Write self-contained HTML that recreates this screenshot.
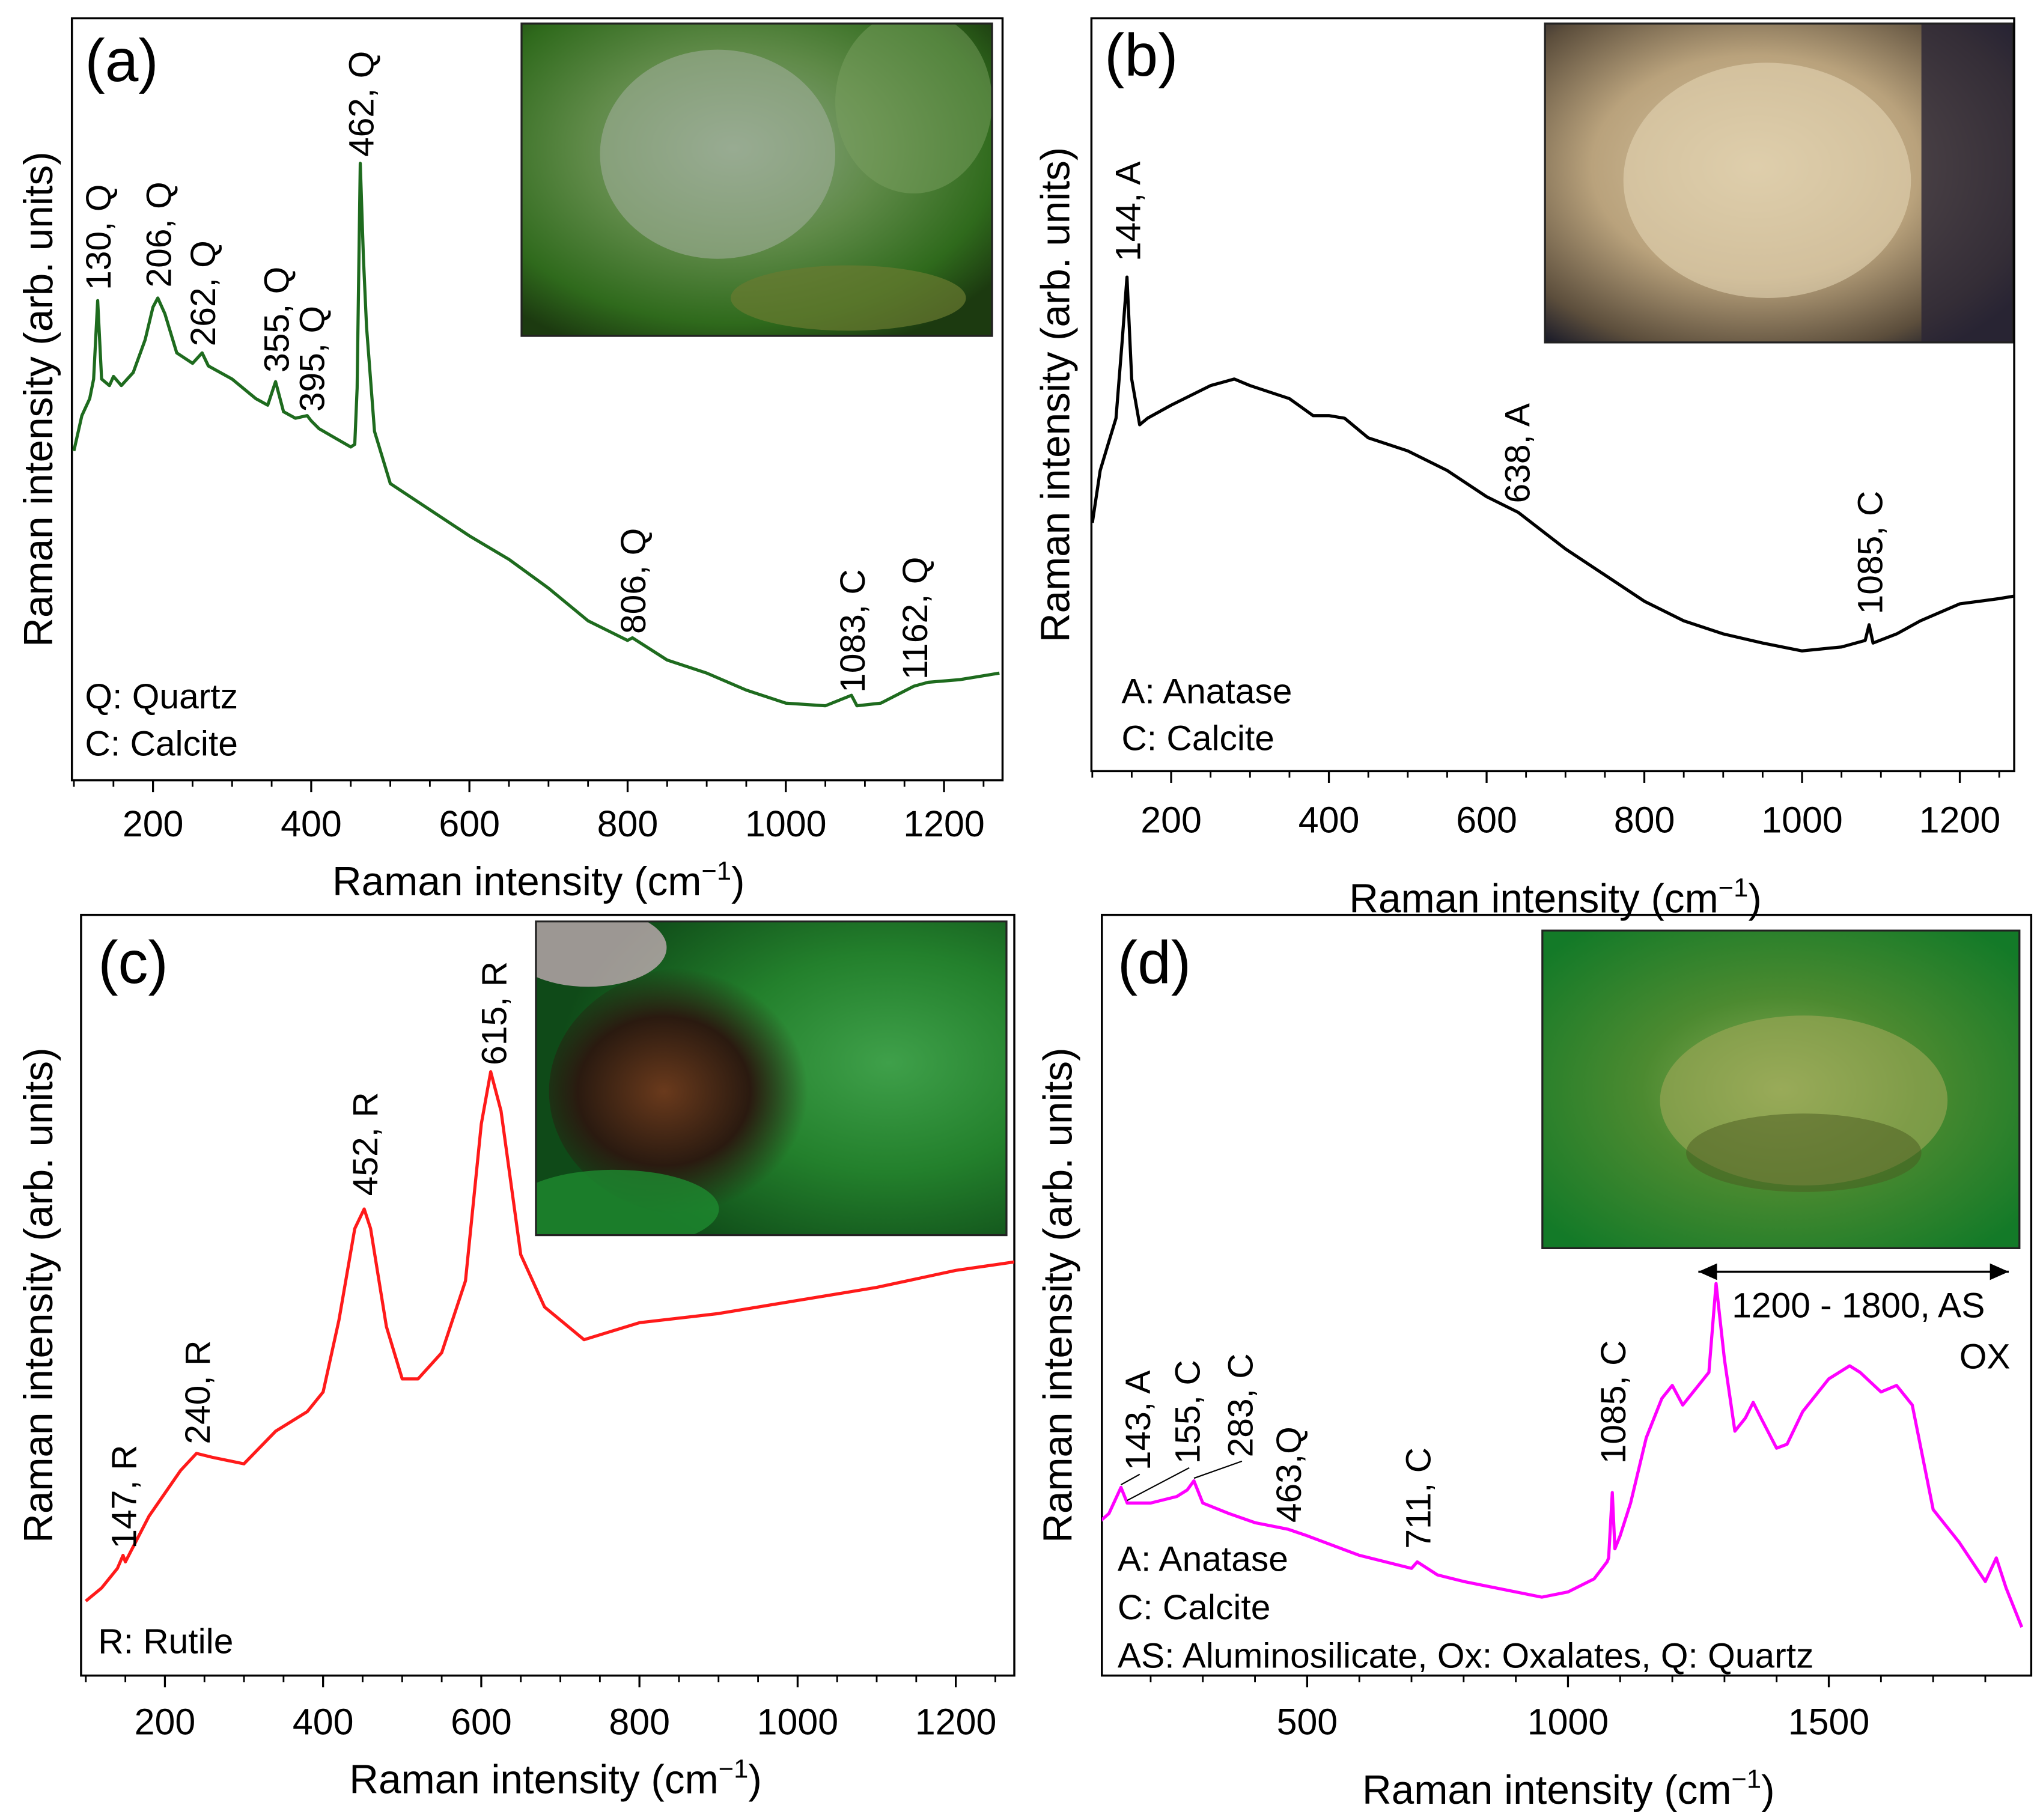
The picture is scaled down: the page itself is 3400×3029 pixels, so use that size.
<!DOCTYPE html>
<html>
<head>
<meta charset="utf-8">
<style>
html,body{margin:0;padding:0;background:#fff;}
svg{display:block;}
text{font-family:"Liberation Sans",Arial,sans-serif;fill:#000;}
</style>
</head>
<body>
<svg id="fig" width="3400" height="3029" viewBox="0 0 1563 1392.5">
<defs id="defs">
<radialGradient id="ga" cx="45%" cy="40%" r="70%"><stop offset="0" stop-color="#8fa88a"/><stop offset="0.45" stop-color="#5f8a48"/><stop offset="0.8" stop-color="#2f6a1c"/><stop offset="1" stop-color="#1c3a10"/></radialGradient>
<radialGradient id="gb" cx="45%" cy="45%" r="70%"><stop offset="0" stop-color="#d8c6a2"/><stop offset="0.5" stop-color="#b9a27c"/><stop offset="0.85" stop-color="#5c4e3c"/><stop offset="1" stop-color="#1e1e2a"/></radialGradient>
<radialGradient id="gc" cx="75%" cy="45%" r="70%"><stop offset="0" stop-color="#3fa04a"/><stop offset="0.5" stop-color="#23802c"/><stop offset="1" stop-color="#0f4a18"/></radialGradient>
<radialGradient id="gc2" cx="40%" cy="50%" r="50%"><stop offset="0" stop-color="#6a3a1c"/><stop offset="0.6" stop-color="#2a1a10"/><stop offset="1" stop-color="#2a1a10" stop-opacity="0"/></radialGradient>
<radialGradient id="gd" cx="50%" cy="50%" r="65%"><stop offset="0" stop-color="#8fae5a"/><stop offset="0.45" stop-color="#4c8a30"/><stop offset="1" stop-color="#137a28"/></radialGradient>
<marker id="arr" markerWidth="10" markerHeight="10" refX="9" refY="5" orient="auto-start-reverse"><path d="M0,1 L9,5 L0,9 Z" fill="#000"/></marker>
</defs>
</svg>
<script>
// ---- data (Raman shift in cm-1, intensity in arb. units) ----
const aShift = [100,110,120,125,130,135,145,150,160,175,190,200,206,215,230,250,262,270,300,330,345,355,365,380,395,400,410,430,450,455,458,462,466,470,480,500,550,600,650,700,750,800,806,850,900,950,1000,1050,1083,1090,1120,1162,1180,1220,1270];
const aInt   = [252,279,292,307,367,307,302,309,302,312,337,362,369,357,327,319,327,317,307,292,287,305,282,277,279,275,269,262,255,257,300,472,400,347,267,227,207,187,169,147,122,107,109,92,82,69,59,57,65,57,59,72,75,77,82];
const bShift = [100,110,120,130,138,144,150,160,170,200,250,280,300,350,380,400,420,450,500,550,600,640,700,750,800,850,900,950,1000,1050,1080,1085,1090,1120,1150,1200,1250,1280];
const bInt   = [190,230,250,270,330,378,300,265,270,280,295,300,295,285,272,272,270,255,245,230,210,198,170,150,130,115,105,98,92,95,100,112,98,105,115,128,132,135];
const cShift = [100,120,140,147,150,180,220,240,260,300,340,380,400,420,440,452,460,480,500,520,550,580,600,612,625,650,680,700,730,800,900,1000,1100,1200,1280];
const cInt   = [57,67,82,92,87,122,157,170,167,162,187,202,217,272,342,357,342,267,227,227,247,302,422,462,432,322,282,272,257,270,277,287,297,310,317];
const dShift = [100,120,143,155,200,250,270,283,300,350,400,463,500,600,700,711,750,800,900,950,1000,1050,1075,1078,1085,1090,1100,1120,1150,1180,1200,1220,1250,1270,1284,1300,1320,1340,1355,1370,1400,1420,1450,1500,1540,1560,1600,1630,1660,1700,1750,1800,1821,1840,1870];
const dInt   = [117,124,144,132,132,137,142,149,132,124,117,112,107,92,82,87,77,72,64,60,64,74,87,90,140,97,107,132,182,212,222,207,222,232,300,242,187,197,209,197,174,177,202,227,237,232,217,222,207,127,102,72,90,67,37];
const abcTicks = [200,400,600,800,1000,1200];
const dTicks = [500,1000,1500];
const aLabels = ["130, Q","206, Q","262, Q","355, Q","395, Q","462, Q","806, Q","1083, C","1162, Q"];
const aLabelX = [130,206,262,355,400,462,806,1083,1162];
const aLabelV = [375,377,332,312,282,477,112,67,77];
const bLabels = ["144, A","638, A","1085, C"];
const bLabelX = [144,638,1085];
const bLabelV = [390,205,120];
const cLabels = ["147, R","240, R","452, R","615, R"];
const cLabelX = [147,240,452,615];
const cLabelV = [97,177,367,467];
const dLabels = ["143, A","155, C","283, C","463,Q","711, C","1085, C"];
const dLabelX = [174,269,370,463,711,1085];
const dLabelV = [157,162,167,117,97,162];

const svg = document.getElementById('fig');
const defs = document.getElementById('defs');
const NS = svg.namespaceURI;
function mk(parent, tag, attrs){
  const e = document.createElementNS(NS, tag);
  for (const k in attrs) e.setAttribute(k, attrs[k]);
  parent.appendChild(e);
  return e;
}

function panel(id, box, dmin, dmax, ticks, minorStep, xs, ys, color, labels, labelX, labelV, tickY, titleX, titleY, yTitleX, letter, letterPos, legend, legendX, legendY0, legendDy, inset, insetFill){
  const g = mk(svg,'g',{});
  
  
  const X = v => box.x0 + (v - dmin)/(dmax - dmin)*(box.x1 - box.x0);
  const Y = v => box.y1 - v;
  // clip paths
  const cp = mk(defs,'clipPath',{id:'ci'+id});
  mk(cp,'rect',{x:inset[0],y:inset[1],width:inset[2],height:inset[3]});
  const cp2 = mk(defs,'clipPath',{id:'cb'+id});
  mk(cp2,'rect',{x:box.x0,y:box.y0,width:box.x1-box.x0,height:box.y1-box.y0});
  // inset image
  const ins = mk(g,'g',{'clip-path':'url(#ci'+id+')'});
  
  
  insetFill(ins, inset);
  mk(g,'rect',{x:inset[0],y:inset[1],width:inset[2],height:inset[3],fill:'none',stroke:'#222','stroke-width':1.5});
  // frame
  const fr = mk(g,'rect',{x:box.x0,y:box.y0,width:box.x1-box.x0,height:box.y1-box.y0,fill:'none',stroke:'#000','stroke-width':1.6});
  
  
  // minor ticks
  for (let v = Math.ceil(dmin/minorStep)*minorStep; v <= dmax; v += minorStep){
    const mt = mk(g,'line',{x1:X(v),x2:X(v),y1:box.y1,y2:box.y1+5,stroke:'#000','stroke-width':1.3});
    
    
  }
  ticks.forEach(t => {
    const tk = mk(g,'line',{x1:X(t),x2:X(t),y1:box.y1,y2:box.y1+9,stroke:'#000','stroke-width':1.5});
    
    
    const tl = mk(g,'text',{x:X(t),y:tickY,'text-anchor':'middle','font-size':28});
    tl.textContent = t;
    
    
  });
  // x title
  const xt = mk(g,'text',{x:titleX,y:titleY,'text-anchor':'middle','font-size':31});
  
  
  xt.appendChild(document.createTextNode('Raman intensity (cm'));
  const sup = mk(xt,'tspan',{dy:-12,'font-size':20});
  sup.textContent = '\u22121';
  const cl = mk(xt,'tspan',{dy:12});
  cl.textContent = ')';
  // y title
  const yc = (box.y0 + box.y1)/2;
  const yt = mk(g,'text',{x:yTitleX,y:yc,'text-anchor':'middle','font-size':31,transform:`rotate(-90 ${yTitleX} ${yc})`});
  yt.textContent = 'Raman intensity (arb. units)';
  
  
  // spectrum
  const d = xs.map((x,i) => (i ? 'L' : 'M') + X(x).toFixed(1) + ',' + Y(ys[i]).toFixed(1)).join(' ');
  const p = mk(g,'path',{d:d,fill:'none',stroke:color,'stroke-width':2.4,'stroke-linejoin':'round','clip-path':'url(#cb'+id+')'});
  
  
  // peak labels
  labels.forEach((s,i) => {
    const lx = X(labelX[i]) + 10, ly = Y(labelV[i]);
    const t = mk(g,'text',{x:lx,y:ly,'font-size':27,transform:`rotate(-90 ${lx} ${ly})`});
    t.textContent = s;
    
    
  });
  // letter
  const lt = mk(g,'text',{x:letterPos[0],y:letterPos[1],'font-size':46});
  lt.textContent = letter;
  
  
  // legend
  legend.forEach((s,i) => {
    const t = mk(g,'text',{x:legendX,y:legendY0 + i*legendDy,'font-size':27});
    t.textContent = s;
    
    
  });
  return {g, X, Y};
}

function fillA(g,r){
  mk(g,'rect',{x:r[0],y:r[1],width:r[2],height:r[3],fill:'url(#ga)'});
  mk(g,'ellipse',{cx:r[0]+150,cy:r[1]+100,rx:90,ry:80,fill:'#9fae98',opacity:0.6});
  mk(g,'ellipse',{cx:r[0]+250,cy:r[1]+210,rx:90,ry:25,fill:'#6a7a30',opacity:0.7});
  mk(g,'ellipse',{cx:r[0]+300,cy:r[1]+60,rx:60,ry:70,fill:'#7aa060',opacity:0.5});
}
function fillB(g,r){
  mk(g,'rect',{x:r[0],y:r[1],width:r[2],height:r[3],fill:'url(#gb)'});
  mk(g,'ellipse',{cx:r[0]+170,cy:r[1]+120,rx:110,ry:90,fill:'#e2d3b2',opacity:0.6});
  mk(g,'rect',{x:r[0]+r[2]-70,y:r[1],width:70,height:r[3],fill:'#2a2636',opacity:0.8});
}
function fillC(g,r){
  mk(g,'rect',{x:r[0],y:r[1],width:r[2],height:r[3],fill:'url(#gc)'});
  mk(g,'ellipse',{cx:r[0]+120,cy:r[1]+130,rx:110,ry:95,fill:'url(#gc2)'});
  mk(g,'ellipse',{cx:r[0]+40,cy:r[1]+20,rx:60,ry:30,fill:'#d8b8c8',opacity:0.7});
  mk(g,'ellipse',{cx:r[0]+60,cy:r[1]+220,rx:80,ry:30,fill:'#1e8a30',opacity:0.8});
}
function fillD(g,r){
  mk(g,'rect',{x:r[0],y:r[1],width:r[2],height:r[3],fill:'url(#gd)'});
  mk(g,'ellipse',{cx:r[0]+200,cy:r[1]+130,rx:110,ry:65,fill:'#a0a858',opacity:0.6});
  mk(g,'ellipse',{cx:r[0]+200,cy:r[1]+170,rx:90,ry:30,fill:'#4a5a20',opacity:0.5});
}

panel('a',{x0:55,x1:767,y0:14,y1:597},97.5,1274,abcTicks,50,aShift,aInt,'#1e6b1e',aLabels,aLabelX,aLabelV,640,412,685,40,'(a)',[65,62],['Q: Quartz','C: Calcite'],65,542,36,[399,18,360,239],fillA);
panel('b',{x0:835,x1:1541,y0:14,y1:590},98.9,1269,abcTicks,50,bShift,bInt,'#000',bLabels,bLabelX,bLabelV,637,1190,698,818,'(b)',[845,58],['A: Anatase','C: Calcite'],858,538,36,[1182,18,358,244],fillB);
panel('c',{x0:62,x1:776,y0:700,y1:1282},94,1274,abcTicks,50,cShift,cInt,'#ff1a1a',cLabels,cLabelX,cLabelV,1327,425,1372,40,'(c)',[75,752],['R: Rutile'],75,1265,36,[410,705,360,240],fillC);
const pd = panel('d',{x0:843,x1:1554,y0:700,y1:1282},106.5,1888,dTicks,100,dShift,dInt,'#ff00ff',dLabels,dLabelX,dLabelV,1327,1200,1380,820,'(d)',[855,752],['A: Anatase','C: Calcite','AS: Aluminosilicate, Ox: Oxalates, Q: Quartz'],855,1202,37,[1180,712,365,243],fillD);

// leader lines in (d)
const leadFrom = [143,155,283];
const leadFromV = [146,134,151];
leadFrom.forEach((x,i) => {
  const ln = mk(pd.g,'line',{x1:pd.X(x),y1:pd.Y(leadFromV[i]),x2:pd.X(dLabelX[i])+2,y2:pd.Y(dLabelV[i])+3,stroke:'#000','stroke-width':1});
  
  
});
// range arrow in (d)
const arr = mk(pd.g,'line',{x1:pd.X(1300)-20,y1:973,x2:pd.X(1870)-10,y2:973,stroke:'#000','stroke-width':1.6,'marker-start':'url(#arr)','marker-end':'url(#arr)'});


const r1 = mk(pd.g,'text',{x:1325,y:1008,'font-size':27});
r1.textContent = '1200 - 1800, AS';


const r2 = mk(pd.g,'text',{x:1538,y:1047,'font-size':27,'text-anchor':'end'});
r2.textContent = 'OX';


</script>
</body>
</html>
